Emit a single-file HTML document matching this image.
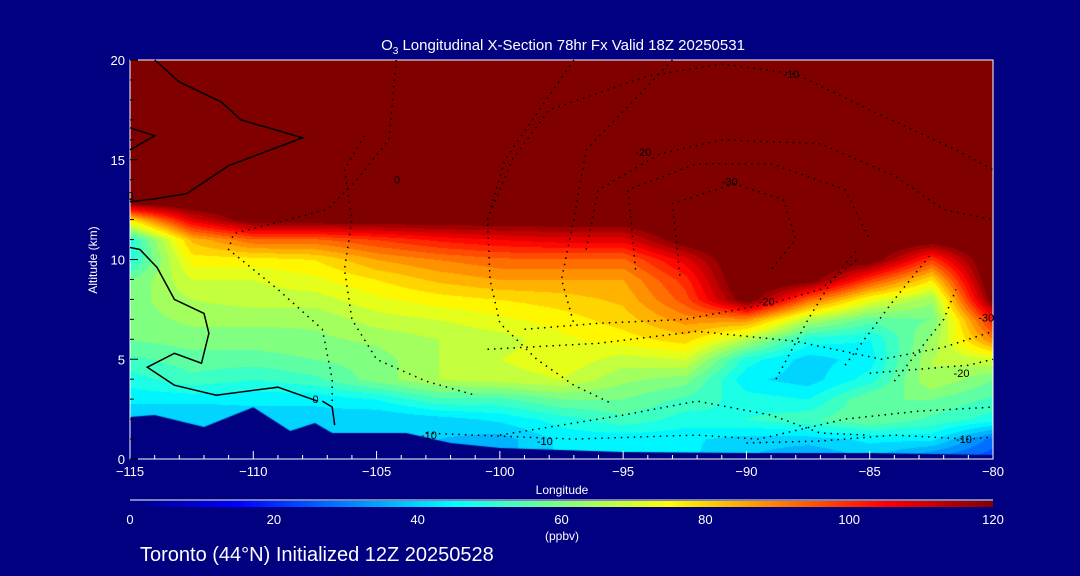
<!DOCTYPE html>
<html><head><meta charset="utf-8">
<style>
html,body{margin:0;padding:0;background:#000080;}
body{width:1080px;height:576px;overflow:hidden;position:relative;font-family:"Liberation Sans",sans-serif;color:#fff;}
svg text{font-family:"Liberation Sans",sans-serif;fill:#fff;}
canvas{position:absolute;left:0;top:0;}
svg{position:absolute;left:0;top:0;}
</style></head>
<body>
<canvas id="cv" width="1080" height="576"></canvas>
<svg id="sv" width="1080" height="576">
  <defs><linearGradient id="jet" x1="0" x2="1" y1="0" y2="0">
    <stop offset="0" stop-color="#000080"/><stop offset="0.125" stop-color="#0000ff"/>
    <stop offset="0.375" stop-color="#00ffff"/><stop offset="0.625" stop-color="#ffff00"/>
    <stop offset="0.875" stop-color="#ff0000"/><stop offset="1" stop-color="#800000"/></linearGradient></defs>
  <text x="563" y="50" font-size="15" text-anchor="middle">O<tspan font-size="10" dy="4">3</tspan><tspan dy="-4"> Longitudinal X-Section 78hr  Fx Valid 18Z 20250531</tspan></text>
  <text x="97" y="260" font-size="12" text-anchor="middle" transform="rotate(-90 97 260)">Altitude (km)</text>
  <text x="562" y="494" font-size="12" text-anchor="middle">Longitude</text>
  <rect x="130" y="501" width="863" height="6" fill="url(#jet)"/>
  <line x1="130" y1="500" x2="993" y2="500" stroke="#fff" stroke-width="1"/>
  <text x="562" y="540" font-size="12" text-anchor="middle">(ppbv)</text>
  <text x="140" y="561" font-size="20">Toronto (44°N) Initialized 12Z 20250528</text>
  <g id="gAxes"></g>
  <g id="gLines"></g>
</svg>
<script>
// ---- data ----
const lons = [-115,-112.5,-110,-107.5,-105,-102.5,-100,-97.5,-95,-92.5,-90,-87.5,-85,-82.5,-80];
const alts = [0,1,2,3,4,5,6,7,8,9,10,11,12,13,14,15,16,17,18,19,20];
const o3_m115  = [40,40,40,45,50,55,60,62,62,60,50,50,80,130,130,130,130,130,130,130,130];
const o3_m1125 = [40,40,40,45,55,58,62,65,68,72,78,85,110,130,130,130,130,130,130,130,130];
const o3_m110  = [42,42,42,45,52,58,62,65,70,72,78,95,125,130,130,130,130,130,130,130,130];
const o3_m1075 = [42,42,42,45,55,60,63,65,70,75,80,95,125,130,130,130,130,130,130,130,130];
const o3_m105  = [40,40,40,48,62,62,65,70,75,80,88,100,125,130,130,130,130,130,130,130,130];
const o3_m1025 = [40,40,42,55,68,68,68,72,78,85,92,105,125,130,130,130,130,130,130,130,130];
const o3_m100  = [38,38,45,55,70,72,70,75,80,88,95,108,125,130,130,130,130,130,130,130,130];
const o3_m975  = [45,45,50,60,72,75,75,78,82,88,95,110,125,130,130,130,130,130,130,130,130];
const o3_m95   = [45,45,55,60,65,70,78,82,85,88,95,110,125,130,130,130,130,130,130,130,130];
const o3_m925  = [45,45,50,55,62,72,82,90,98,102,110,125,130,130,130,130,130,130,130,130,130];
const o3_m90   = [40,42,52,50,45,50,68,90,125,130,130,130,130,130,130,130,130,130,130,130,130];
const o3_m875  = [35,42,55,48,42,42,50,68,95,125,130,130,130,130,130,130,130,130,130,130,130];
const o3_m85   = [40,45,60,60,50,46,48,58,75,100,125,130,130,130,130,130,130,130,130,130,130];
const o3_m825  = [30,45,55,60,68,68,65,60,65,80,100,125,130,130,130,130,130,130,130,130,130];
const o3_m80   = [25,30,50,55,60,72,92,105,125,130,130,130,130,130,130,130,130,130,130,130,130];
const o3Columns = [o3_m115,o3_m1125,o3_m110,o3_m1075,o3_m105,o3_m1025,o3_m100,o3_m975,o3_m95,o3_m925,o3_m90,o3_m875,o3_m85,o3_m825,o3_m80];
const terrainLon = [-115,-114,-112,-110,-108.5,-107.5,-106.8,-105,-103.8,-102,-100,-95,-90,-85,-80];
const terrainAlt = [2.1,2.2,1.6,2.6,1.4,1.8,1.3,1.3,1.3,0.8,0.55,0.35,0.3,0.3,0.2];
const xTickLabels = ["\u2212115","\u2212110","\u2212105","\u2212100","\u221295","\u221290","\u221285","\u221280"];
const xTickValues = [-115,-110,-105,-100,-95,-90,-85,-80];
const yTickValues = [0,5,10,15,20];
const cbarValues = [0,20,40,60,80,100,120];
const solidLines = [
  [[-115,12.9],[-114.2,13],[-112.7,13.3],[-111,14.7],[-108,16.1],[-110.5,17],[-111.3,17.9],[-113,18.9],[-114,20]],
  [[-115,16.6],[-114,16.2],[-115,15.5]],
  [[-115,10.6],[-114.6,10.5],[-113.9,9.6],[-113.2,8],[-112,7.3],[-111.8,6.3],[-112.1,4.8],[-113.2,5.3],[-114.3,4.6],[-113.2,3.7],[-111.5,3.2],[-109,3.6],[-107.4,2.9]],
  [[-107.2,2.9],[-106.8,2.6],[-106.7,1.7]]
];
const dottedLines = [
  [[-104.2,20],[-104.5,16],[-105.8,14],[-107,12.5],[-110.8,11.3],[-111,10.5],[-109,8.5],[-107.2,6.5],[-106.8,4],[-106.8,2.9]],
  [[-105.5,16.2],[-106.3,14.5],[-106,12],[-106.3,9.5],[-106,7],[-105,5],[-103,3.9],[-101,3.2]],
  [[-97,20],[-99.8,15],[-100.5,12],[-100.4,9],[-100,6.8],[-98.5,5],[-97,3.7],[-95.5,2.8]],
  [[-93,20],[-96.5,15.5],[-97,12],[-97.5,9],[-97,6.8]],
  [[-100.5,12],[-99.5,15],[-98,17.5],[-94,19.2],[-91,19.8],[-88,19.3],[-85,17.5],[-81.5,15.5],[-80,14.5]],
  [[-96.5,10.5],[-96,13.5],[-93.5,15.3],[-91,16],[-87,15.8],[-84,14.2],[-82,12.5],[-80,12]],
  [[-94.5,9.5],[-94.8,13.5],[-92,14.8],[-89,14.8],[-86,13.5],[-85,11]],
  [[-92.7,9.2],[-93,12.8],[-90.5,13.8],[-88.5,13],[-88,11],[-89,9.5]],
  [[-99,6.5],[-96,6.8],[-92.5,7],[-89,7.8],[-87,8.5],[-85.5,10]],
  [[-100.5,5.5],[-96,5.8],[-92,6.4],[-88,5.9],[-84.5,5],[-82,5.6],[-80,6.4]],
  [[-100,1.2],[-95,2.2],[-92,2.9],[-89,2.2],[-87,1.3],[-85,1.2]],
  [[-103,1.3],[-97,1],[-92,1.2],[-89.5,1],[-86,2],[-83,2.4],[-80,2.6]],
  [[-90,0.8],[-87,0.9],[-84,1.2],[-81,1],[-80,1.1]],
  [[-88.8,4],[-87.5,7],[-86.5,9],[-85.5,10.5]],
  [[-86,4.7],[-84,8],[-82.5,10.3]],
  [[-84,3.9],[-82,7],[-81.5,8.5]],
  [[-85,4.3],[-83,4.5],[-81,4.7],[-80,5]]
];
const contourLabels = [["0",-115.1,13.2],["0",-104.3,14],["0",-107.6,3.0],["-10",-103.2,1.2],["-10",-98.5,0.9],["-10",-88.5,19.3],["-20",-94.5,15.4],["-30",-91,13.9],["-20",-89.5,7.9],["-30",-80.6,7.1],["-20",-81.6,4.3],["-10",-81.5,1.0]];

// ---- axes ----
const X0=130,X1=993,Y0=459,Y1=60;
function xs(lon){return X0+(lon+115)/35*(X1-X0);}
function ys(a){return Y0-a/20*(Y0-Y1);}
function cx(v){return X0+v/120*(X1-X0);}
function jet(t){const c=v=>Math.round(255*Math.max(0,Math.min(1,1.5-Math.abs(v))));return [c(4*t-3),c(4*t-2),c(4*t-1)];}
function val(lon,a){
  let fi=(lon+115)/2.5; fi=Math.max(0,Math.min(lons.length-1.0001,fi));
  let fj=Math.max(0,Math.min(alts.length-1.0001,a));
  const i=Math.floor(fi),j=Math.floor(fj),u=fi-i,w=fj-j;
  const A=o3Columns[i],B=o3Columns[i+1];
  return (A[j]*(1-w)+A[j+1]*w)*(1-u)+(B[j]*(1-w)+B[j+1]*w)*u;
}
const cv=document.getElementById('cv'),ctx=cv.getContext('2d');
ctx.fillStyle='#000080';ctx.fillRect(0,0,1080,576);
const img=ctx.getImageData(X0,Y1,X1-X0,Y0-Y1);
for(let py=0;py<Y0-Y1;py++){for(let px=0;px<X1-X0;px++){
  const lon=-115+px/(X1-X0)*35,a=(Y0-Y1-py)/(Y0-Y1)*20;
  let v=val(lon,a);v=Math.min(120,Math.floor(v/4)*4);
  const c=jet(v/120),k=(py*(X1-X0)+px)*4;
  img.data[k]=c[0];img.data[k+1]=c[1];img.data[k+2]=c[2];img.data[k+3]=255;}}
ctx.putImageData(img,X0,Y1);
ctx.fillStyle='#000080';ctx.beginPath();ctx.moveTo(xs(-115),ys(0));
for(let i=0;i<terrainLon.length;i++)ctx.lineTo(xs(terrainLon[i]),ys(terrainAlt[i]));
ctx.lineTo(xs(-80),ys(0));ctx.closePath();ctx.fill();

const NS='http://www.w3.org/2000/svg';
const gA=document.getElementById('gAxes'),gL=document.getElementById('gLines');
function mk(tag,attrs,parent){const e=document.createElementNS(NS,tag);for(const k in attrs)e.setAttribute(k,attrs[k]);parent.appendChild(e);return e;}
const frame=mk('rect',{x:X0,y:Y1,width:X1-X0,height:Y0-Y1,fill:'none',stroke:'#fff','stroke-width':1},gA);


for(let l=-115;l<=-80;l++){const maj=(l%5===0);
  const t=mk('line',{x1:xs(l),x2:xs(l),y1:Y0,y2:Y0-(maj?8:4),stroke:'#fff'},gA);
  
  }
xTickValues.forEach((l,i)=>{const t=mk('text',{x:xs(l),y:Y0+17,'font-size':13,'text-anchor':'middle'},gA);t.textContent=xTickLabels[i];
  
  });
for(let a=0;a<=20;a++){const maj=(a%5===0);
  const t=mk('line',{x1:X0,x2:X0+(maj?8:4),y1:ys(a),y2:ys(a),stroke:'#000','stroke-width':1},gA);
  
  }
yTickValues.forEach(a=>{const t=mk('text',{x:X0-5,y:ys(a)+5,'font-size':13,'text-anchor':'end'},gA);t.textContent=a;
  
  });
cbarValues.forEach(v=>{const t=mk('text',{x:cx(v),y:524,'font-size':13,'text-anchor':'middle'},gA);t.textContent=v;
  
  });
function pts(arr){return arr.map(p=>xs(p[0]).toFixed(1)+','+ys(p[1]).toFixed(1)).join(' ');}
solidLines.forEach(l=>{const e=mk('polyline',{points:pts(l),fill:'none',stroke:'#000','stroke-width':1.5},gL);
  
  });
dottedLines.forEach(l=>{const e=mk('polyline',{points:pts(l),fill:'none',stroke:'#000','stroke-width':1.5,'stroke-dasharray':'1.5 5'},gL);
  
  });
contourLabels.forEach(c=>{const t=mk('text',{x:xs(c[1]),y:ys(c[2])+4,'font-size':11,style:'fill:#000'},gL);t.textContent=c[0];
  
  });
</script>
</body></html>
